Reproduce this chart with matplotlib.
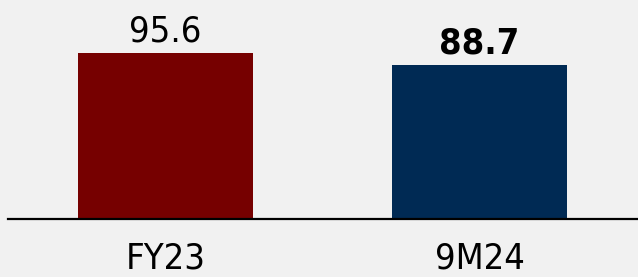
import matplotlib.pyplot as plt

# data
periods = ['FY23', '9M24']
values = [95.6, 88.7]
bar_colors = ['#760000', '#002a54']
value_bold = [False, True]

plt.rcParams['font.family'] = ['DejaVu Sans']

fig = plt.figure(figsize=(6.38, 2.77), dpi=100)
fig.patch.set_facecolor('#f1f1f1')
ax = fig.add_axes([8/638, 58/277, 630/638, 219/277])
ax.set_facecolor('#f1f1f1')

xs = list(range(len(periods)))
bars = ax.bar(xs, values, width=0.557, color=bar_colors)

# value labels above the bars
for b, v, bold in zip(bars, values, value_bold):
    ax.annotate(f'{v:.1f}', (b.get_x() + b.get_width()/2, v),
                xytext=(0, 3.5), textcoords='offset points',
                ha='center', va='bottom', fontsize=26, fontstretch='condensed',
                fontweight='bold' if bold else 'normal')

ax.set_xlim(-0.5016, 1.505)
ax.set_ylim(0, 126.1)
ax.set_xticks(xs)
ax.set_xticklabels(periods, fontsize=26, fontstretch='condensed')
ax.tick_params(axis='x', length=0, pad=16)
ax.set_yticks([])
for s in ['top', 'right', 'left']:
    ax.spines[s].set_visible(False)
ax.spines['bottom'].set_linewidth(1.6)
ax.spines['bottom'].set_color('black')

fig.savefig('out.png', dpi=100, facecolor=fig.get_facecolor())
